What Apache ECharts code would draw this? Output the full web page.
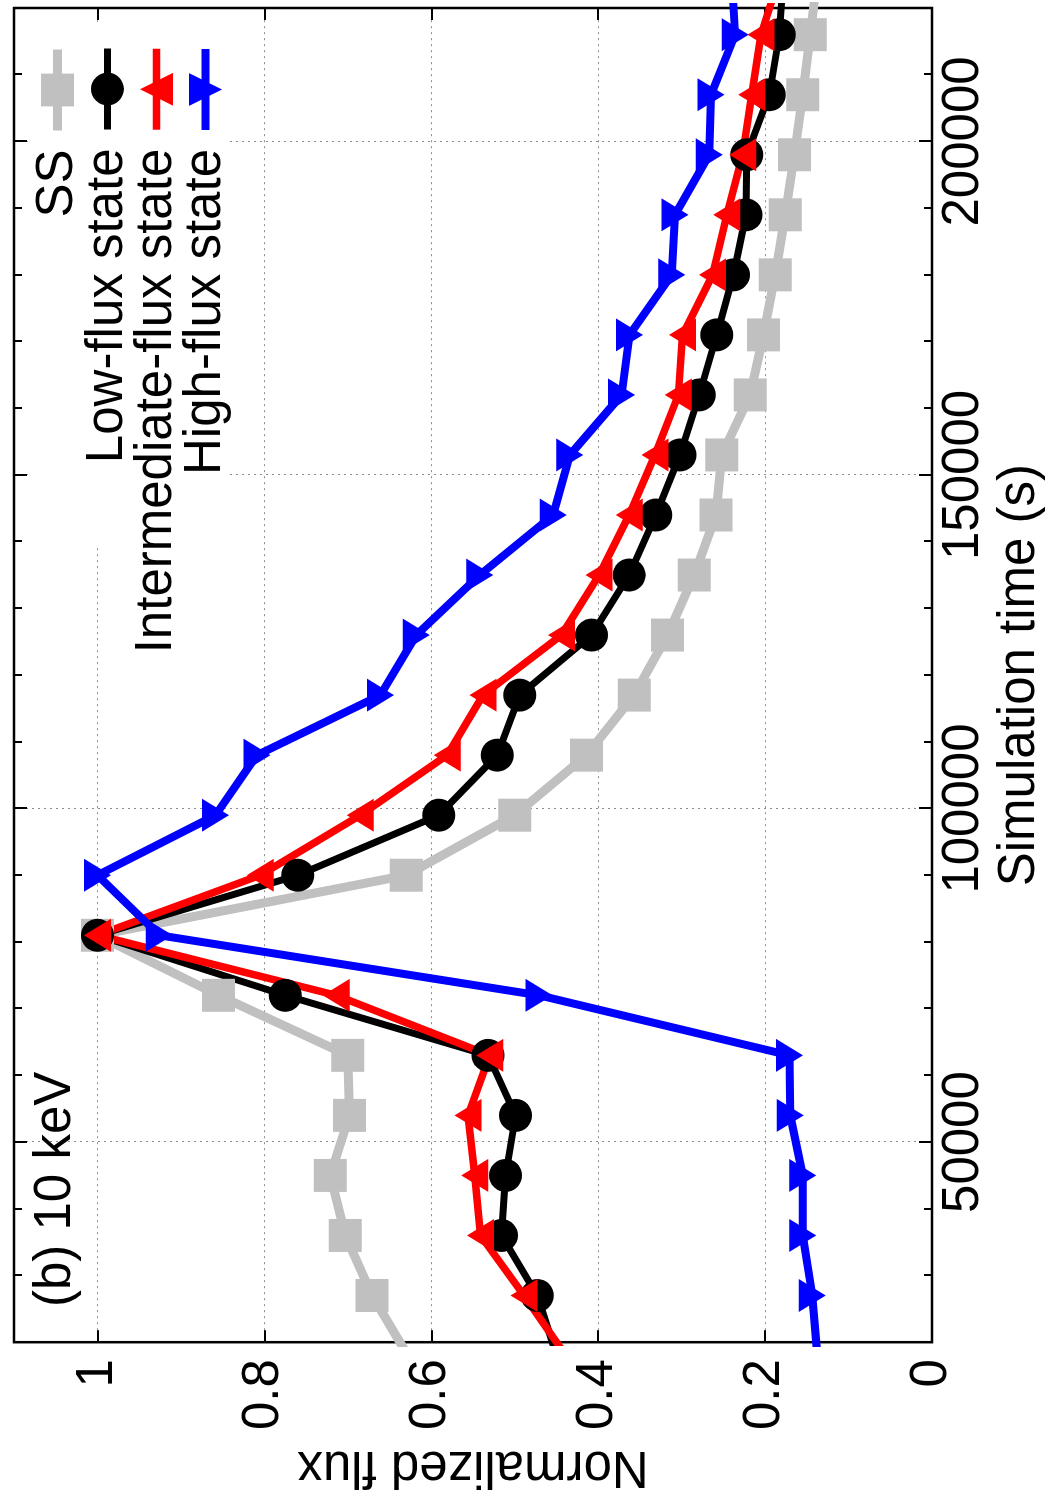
<!DOCTYPE html>
<html>
<head>
<meta charset="utf-8">
<title>(b) 10 keV - normalized flux</title>
<script src="https://cdn.jsdelivr.net/npm/echarts@6.0.0/dist/echarts.min.js"></script>
<style>
  html, body { margin: 0; padding: 0; background: #fff; width: 1050px; height: 1500px; overflow: hidden; }
  /* the figure is drawn landscape and turned a quarter turn counter-clockwise, like the source */
  #chart {
    position: absolute; left: 0; top: 0;
    width: 1500px; height: 1050px;
    transform-origin: 0 0;
    transform: translate(0, 1500px) rotate(-90deg);
  }
</style>
</head>
<body>
<div id="chart"></div>
<script>
// simulation time (s) of every sample
const times = [18000, 27000, 36000, 45000, 54000, 63000, 72000, 81000, 90000, 99000,
  108000, 117000, 126000, 135000, 144000, 153000, 162000, 171000, 180000, 189000,
  198000, 207000, 216000, 225000];

// normalized flux per state
const ssFlux = [0.628, 0.671, 0.703, 0.721, 0.698, 0.700, 0.855, 1.0, 0.630, 0.500,
  0.414, 0.357, 0.317, 0.285, 0.259, 0.252, 0.218, 0.202, 0.188, 0.176,
  0.165, 0.155, 0.146, 0.137];
const lowFlux = [0.450, 0.473, 0.516, 0.511, 0.499, 0.532, 0.775, 1.0, 0.760, 0.591,
  0.521, 0.494, 0.408, 0.363, 0.331, 0.302, 0.279, 0.258, 0.238, 0.223,
  0.222, 0.195, 0.183, 0.178];
const intFlux = [0.439, 0.489, 0.541, 0.548, 0.556, 0.530, 0.714, 1.0, 0.805, 0.685,
  0.581, 0.538, 0.444, 0.399, 0.363, 0.332, 0.304, 0.299, 0.263, 0.246,
  0.227, 0.216, 0.205, 0.182];
const highFlux = [0.1375, 0.1435, 0.155, 0.155, 0.170, 0.171, 0.471, 0.926, 1.0, 0.8585,
  0.809, 0.661, 0.618, 0.542, 0.454, 0.434, 0.372, 0.3625, 0.312, 0.308,
  0.267, 0.265, 0.236, 0.240];

// tick labels
const timeTicks = [50000, 100000, 150000, 200000];
const fluxTicks = [0, 0.2, 0.4, 0.6, 0.8, 1];

const seriesNames = ['SS', 'Low-flux state', 'Intermediate-flux state', 'High-flux state'];

const FONT = "'Liberation Sans', Arial, Helvetica, sans-serif";
const gridDots = { type: [2, 4], width: 1 };
const tickStyle = { color: '#000', width: 2 };

function pairs(values) {
  return times.map((t, i) => [t, values[i]]);
}

const chart = echarts.init(document.getElementById('chart'), null, { renderer: 'canvas' });

// minor ticks every 10000 s, labelled ticks every 50000 s
function timeAxis(position, main) {
  return {
    type: 'value',
    position: position,
    min: 20000,
    max: 220000,
    interval: 10000,
    axisLine: { show: false },
    axisTick: { inside: true, length: 8, lineStyle: tickStyle },
    axisLabel: main ? {
      margin: 6,
      fontSize: 51,
      fontFamily: FONT,
      color: '#000',
      formatter: v => (timeTicks.includes(v) ? String(v) : '')
    } : { show: false },
    // only every fifth line (the 50000 s marks) is visible
    splitLine: {
      show: main,
      lineStyle: Object.assign({ color: ['transparent', 'transparent', 'transparent', '#8c8c8c', 'transparent'] }, gridDots)
    },
    name: main ? 'Simulation time (s)' : '',
    nameLocation: 'middle',
    nameGap: 49,
    nameTextStyle: { fontSize: 51, fontFamily: FONT, color: '#000' }
  };
}

function majorTimeTicks(position) {
  return {
    type: 'value',
    position: position,
    min: 20000,
    max: 220000,
    axisLine: { show: false },
    axisLabel: { show: false },
    splitLine: { show: false },
    axisTick: { inside: true, length: 13, customValues: timeTicks, lineStyle: tickStyle }
  };
}

function fluxAxis(position, main) {
  return {
    type: 'value',
    position: position,
    min: 0,
    max: 1.1,
    interval: 0.2,
    axisLine: { show: false },
    axisTick: { inside: true, length: 12, lineStyle: tickStyle },
    axisLabel: main ? {
      margin: 17,
      fontSize: 51,
      fontFamily: FONT,
      color: '#000',
      formatter: v => {
        const r = Math.round(v * 10) / 10;
        return fluxTicks.includes(r) ? String(r) : '';
      }
    } : { show: false },
    splitLine: {
      show: main,
      showMinLine: false,
      showMaxLine: false,
      lineStyle: Object.assign({ color: '#8c8c8c' }, gridDots)
    },
    name: main ? 'Normalized flux' : '',
    nameLocation: 'middle',
    nameGap: 92,
    nameTextStyle: { fontSize: 51, fontFamily: FONT, color: '#000' }
  };
}

function legendRow(name, top) {
  return {
    data: [name],
    orient: 'vertical',
    right: 45,
    top: top,
    align: 'right',
    padding: 0,
    itemWidth: 81,
    itemHeight: 41,
    selectedMode: false,
    lineStyle: { width: 'inherit' },
    textStyle: { fontSize: 51, fontFamily: FONT, color: '#000', lineHeight: 41, padding: [0, 14, 0, 0] }
  };
}

const option = {
  animation: false,
  backgroundColor: '#fff',
  title: {
    text: '(b) 10 keV',
    left: 193,
    top: 30,
    padding: 0,
    textStyle: { fontSize: 51, fontWeight: 'normal', fontFamily: FONT, color: '#000' }
  },
  legend: [
    legendRow(seriesNames[0], 32),
    legendRow(seriesNames[1], 82),
    legendRow(seriesNames[2], 131),
    legendRow(seriesNames[3], 180)
  ],
  grid: {
    left: 141,
    right: 8,
    top: 14,
    bottom: 102,
    show: true,
    borderColor: '#000',
    borderWidth: 2.5,
    backgroundColor: 'transparent'
  },
  // opaque key box, as in the source
  graphic: [{
    type: 'rect',
    z: 1,
    shape: { x: 952, y: 28, width: 526, height: 199 },
    style: { fill: '#fff' }
  }],
  xAxis: [
    timeAxis('bottom', true),
    majorTimeTicks('bottom'),
    timeAxis('top', false),
    majorTimeTicks('top')
  ],
  yAxis: [
    fluxAxis('left', true),
    fluxAxis('right', false)
  ],
  series: [
    {
      name: seriesNames[0],
      type: 'line',
      z: 3,
      data: pairs(ssFlux),
      symbol: 'rect',
      symbolSize: 33,
      lineStyle: { color: '#c0c0c0', width: 9 },
      itemStyle: { color: '#c0c0c0', borderWidth: 0 }
    },
    {
      name: seriesNames[1],
      type: 'line',
      z: 3,
      data: pairs(lowFlux),
      symbol: 'circle',
      symbolSize: 33,
      lineStyle: { color: '#000', width: 7 },
      itemStyle: { color: '#000', borderWidth: 0 }
    },
    {
      name: seriesNames[2],
      type: 'line',
      z: 3,
      data: pairs(intFlux),
      symbol: 'triangle',
      symbolSize: [33, 27],
      lineStyle: { color: '#ff0000', width: 7.5 },
      itemStyle: { color: '#ff0000', borderWidth: 0 }
    },
    {
      name: seriesNames[3],
      type: 'line',
      z: 3,
      data: pairs(highFlux),
      symbol: 'triangle',
      symbolRotate: 180,
      symbolSize: [33, 27],
      lineStyle: { color: '#0000ff', width: 8 },
      itemStyle: { color: '#0000ff', borderWidth: 0 }
    }
  ]
};

chart.setOption(option);
</script>
</body>
</html>
